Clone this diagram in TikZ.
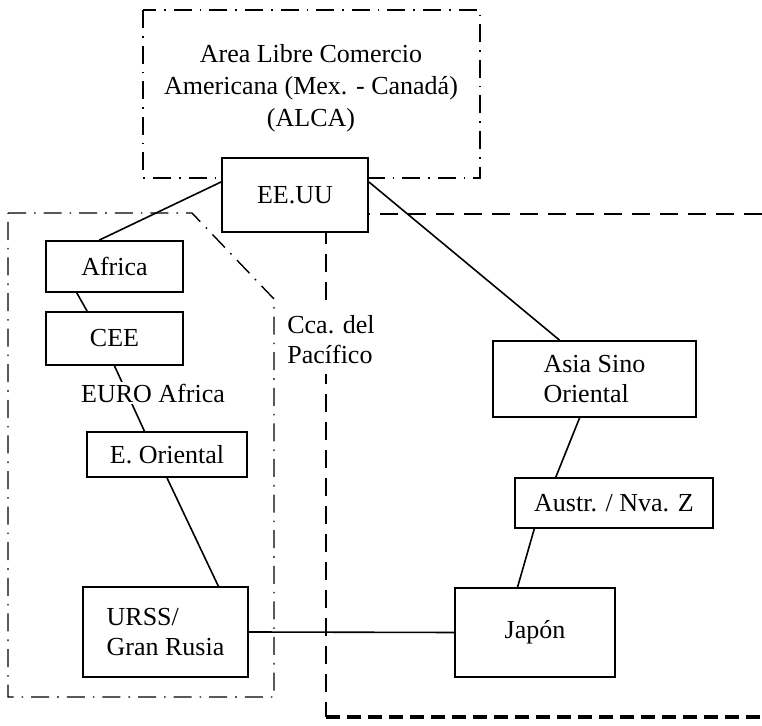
\documentclass[tikz,border=0pt]{standalone}
\usepackage{fontspec}
\setmainfont{Liberation Serif}
\begin{document}
\begin{tikzpicture}[x=0.5pt, y=-0.5pt,
        box/.style={draw, line width=0.9pt, fill=white, font=\fontsize{13}{15}\selectfont, align=left, inner sep=0pt},
        lbl/.style={font=\fontsize{13}{15}\selectfont, align=left},
        dashdot/.style={line width=0.7pt, dash pattern=on 9pt off 4pt on 0.8pt off 4pt},
        dashreg/.style={line width=0.7pt, dash pattern=on 9pt off 5pt},
        link/.style={line width=0.8pt}]

        \useasboundingbox (0,0) rectangle (762,726);

        % === Regiones ===
        \draw[dashdot] (143,10) rectangle (480,178);
        \draw[dashdot] (8,213) -- (192,213) -- (274,299) -- (274,697) -- (8,697) -- cycle;
        \draw[dashreg] (762,214) -- (326,214) -- (326,717);
        \draw[line width=1.6pt, dash pattern=on 7pt off 3.5pt] (326,717) -- (762,717);

        \node[font=\fontsize{13}{16}\selectfont, align=center] (alca) at (311,88)
            {Area Libre Comercio\\Americana (Mex. - Canad\'a)\\(ALCA)};
        \node[lbl, fill=white, inner xsep=1pt, inner ysep=5pt] (cca) at (331,340) {Cca. del\\Pac\'ifico};

        % === Bloques ===
        \node[box, minimum width=73pt, minimum height=37pt] (eeuu) at (295,195) {EE.UU};
        \node[box, minimum width=68.5pt, minimum height=25.5pt] (africa) at (114.5,266.5) {Africa};
        \node[box, minimum width=68.5pt, minimum height=26.5pt] (cee) at (114.5,338.5) {CEE};
        \node[box, minimum width=80pt, minimum height=22.5pt] (eor) at (167,454.5) {E. Oriental};
        \node[box, minimum width=82.5pt, minimum height=45pt] (urss) at (165.5,632) {URSS/\\Gran Rusia};
        \node[box, minimum width=101.5pt, minimum height=38pt] (asia) at (594.5,379) {Asia Sino\\Oriental};
        \node[box, minimum width=99pt, minimum height=25pt] (austr) at (614,503) {Austr. / Nva. Z};
        \node[box, minimum width=80pt, minimum height=44.5pt] (japon) at (535,632.5) {Jap\'on};

        % === Enlaces ===
        \draw[link] (eeuu.170) -- (africa.120);
        \draw[link] (eeuu.10) -- (asia.132);
        \draw[link] (africa.215) -- (cee.135);
        \draw[link] (cee.south) -- (eor.134);
        \draw[link] (eor.south) -- (urss.41);
        \draw[link] (urss.east) -- (japon.west);
        \draw[link] (asia.249) -- (austr.156);
        \draw[link] (austr.198) -- (japon.111);

        \node[lbl, fill=white, inner sep=1pt] (euro) at (153,393) {EURO Africa};

    \end{tikzpicture}
\end{document}
